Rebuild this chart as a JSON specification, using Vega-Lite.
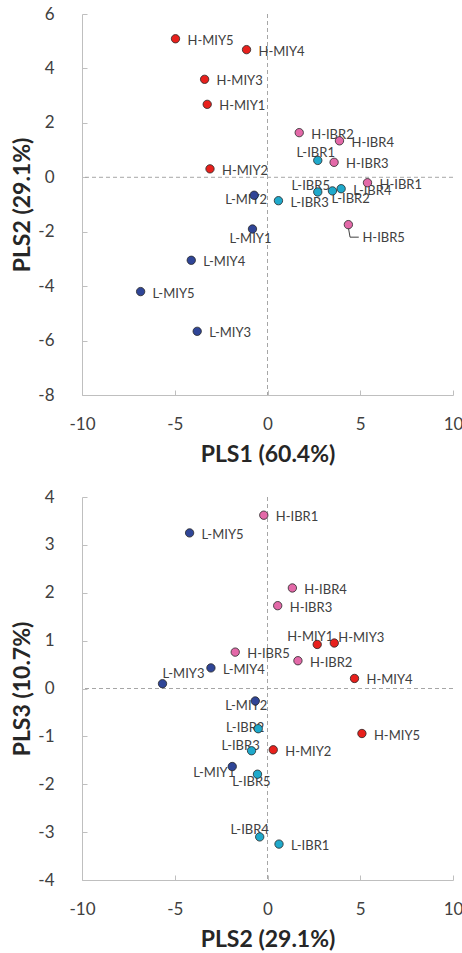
{
  "$schema": "https://vega.github.io/schema/vega-lite/v6.json",
  "background": "white",
  "padding": {"left": 11, "top": 5, "right": 0, "bottom": 0},
  "datasets": {
    "pls": [
      {"name": "H-MIY1", "grp": "H-MIY", "PLS1": -3.25, "PLS2": 2.68, "PLS3": 0.92},
      {"name": "H-MIY2", "grp": "H-MIY", "PLS1": -3.10, "PLS2": 0.31, "PLS3": -1.28},
      {"name": "H-MIY3", "grp": "H-MIY", "PLS1": -3.39, "PLS2": 3.60, "PLS3": 0.95},
      {"name": "H-MIY4", "grp": "H-MIY", "PLS1": -1.13, "PLS2": 4.69, "PLS3": 0.21},
      {"name": "H-MIY5", "grp": "H-MIY", "PLS1": -4.96, "PLS2": 5.09, "PLS3": -0.94},
      {"name": "H-IBR1", "grp": "H-IBR", "PLS1": 5.39, "PLS2": -0.20, "PLS3": 3.62},
      {"name": "H-IBR2", "grp": "H-IBR", "PLS1": 1.71, "PLS2": 1.64, "PLS3": 0.58},
      {"name": "H-IBR3", "grp": "H-IBR", "PLS1": 3.59, "PLS2": 0.55, "PLS3": 1.73},
      {"name": "H-IBR4", "grp": "H-IBR", "PLS1": 3.88, "PLS2": 1.34, "PLS3": 2.10},
      {"name": "H-IBR5", "grp": "H-IBR", "PLS1": 4.36, "PLS2": -1.74, "PLS3": 0.76},
      {"name": "L-IBR1", "grp": "L-IBR", "PLS1": 2.71, "PLS2": 0.62, "PLS3": -3.25},
      {"name": "L-IBR2", "grp": "L-IBR", "PLS1": 3.50, "PLS2": -0.50, "PLS3": -0.84},
      {"name": "L-IBR3", "grp": "L-IBR", "PLS1": 0.59, "PLS2": -0.86, "PLS3": -1.30},
      {"name": "L-IBR4", "grp": "L-IBR", "PLS1": 3.97, "PLS2": -0.42, "PLS3": -3.10},
      {"name": "L-IBR5", "grp": "L-IBR", "PLS1": 2.71, "PLS2": -0.54, "PLS3": -1.79},
      {"name": "L-MIY1", "grp": "L-MIY", "PLS1": -0.81, "PLS2": -1.90, "PLS3": -1.63},
      {"name": "L-MIY2", "grp": "L-MIY", "PLS1": -0.72, "PLS2": -0.66, "PLS3": -0.26},
      {"name": "L-MIY3", "grp": "L-MIY", "PLS1": -3.79, "PLS2": -5.66, "PLS3": 0.10},
      {"name": "L-MIY4", "grp": "L-MIY", "PLS1": -4.11, "PLS2": -3.05, "PLS3": 0.43},
      {"name": "L-MIY5", "grp": "L-MIY", "PLS1": -6.84, "PLS2": -4.20, "PLS3": 3.25}
    ],
    "leader": [
      {"step": 1, "PLS1": 4.36, "PLS2": -1.85},
      {"step": 2, "PLS1": 4.45, "PLS2": -2.20},
      {"step": 3, "PLS1": 4.92, "PLS2": -2.20}
    ]
  },
  "data": {"name": "pls"},
  "bounds": "flush",
  "spacing": 102,
  "vconcat": [
    {
      "width": 371,
      "height": 381,
      "layer": [
        {
          "data": {"values": [{}]},
          "mark": {"type": "rule", "color": "#a6a6a6", "strokeDash": [4, 3], "strokeWidth": 1},
          "encoding": {"x": {"datum": 0, "type": "quantitative", "scale": {"domain": [-10, 10]}}}
        },
        {
          "data": {"values": [{}]},
          "mark": {"type": "rule", "color": "#a6a6a6", "strokeDash": [4, 3], "strokeWidth": 1},
          "encoding": {"y": {"datum": 0, "type": "quantitative", "scale": {"domain": [-8, 6]}}}
        },
        {
          "data": {"name": "leader"},
          "mark": {"type": "line", "color": "#404040", "strokeWidth": 1},
          "encoding": {
            "x": {"field": "PLS1", "type": "quantitative", "title": "PLS1 (60.4%)"},
            "y": {"field": "PLS2", "type": "quantitative", "title": "PLS2 (29.1%)"},
            "order": {"field": "step"}
          }
        },
        {
          "transform": [{"filter": {"field": "name", "oneOf": ["H-MIY5", "H-MIY4", "H-MIY3", "H-MIY1", "H-MIY2", "H-IBR2", "H-IBR4", "H-IBR3", "H-IBR1", "L-IBR4", "L-IBR3", "L-MIY4", "L-MIY5", "L-MIY3"]}}],
          "mark": {"type": "text", "align": "left", "baseline": "middle", "dx": 12, "dy": 2, "fontSize": 13, "color": "#404040"},
          "encoding": {
            "x": {"field": "PLS1", "type": "quantitative", "title": "PLS1 (60.4%)"},
            "y": {"field": "PLS2", "type": "quantitative", "title": "PLS2 (29.1%)"},
            "text": {"field": "name"}
          }
        },
        {
          "transform": [{"filter": {"field": "name", "equal": "L-IBR1"}}],
          "mark": {"type": "text", "align": "center", "baseline": "middle", "dx": -2, "dy": -7, "fontSize": 13, "color": "#404040"},
          "encoding": {
            "x": {"field": "PLS1", "type": "quantitative", "title": "PLS1 (60.4%)"},
            "y": {"field": "PLS2", "type": "quantitative", "title": "PLS2 (29.1%)"},
            "text": {"field": "name"}
          }
        },
        {
          "transform": [{"filter": {"field": "name", "equal": "L-IBR5"}}],
          "mark": {"type": "text", "align": "center", "baseline": "middle", "dx": -7, "dy": -6, "fontSize": 13, "color": "#404040"},
          "encoding": {
            "x": {"field": "PLS1", "type": "quantitative", "title": "PLS1 (60.4%)"},
            "y": {"field": "PLS2", "type": "quantitative", "title": "PLS2 (29.1%)"},
            "text": {"field": "name"}
          }
        },
        {
          "transform": [{"filter": {"field": "name", "equal": "L-IBR2"}}],
          "mark": {"type": "text", "align": "left", "baseline": "middle", "dx": -1, "dy": 8, "fontSize": 13, "color": "#404040"},
          "encoding": {
            "x": {"field": "PLS1", "type": "quantitative", "title": "PLS1 (60.4%)"},
            "y": {"field": "PLS2", "type": "quantitative", "title": "PLS2 (29.1%)"},
            "text": {"field": "name"}
          }
        },
        {
          "transform": [{"filter": {"field": "name", "equal": "L-MIY2"}}],
          "mark": {"type": "text", "align": "center", "baseline": "middle", "dx": -8, "dy": 5, "fontSize": 13, "color": "#404040"},
          "encoding": {
            "x": {"field": "PLS1", "type": "quantitative", "title": "PLS1 (60.4%)"},
            "y": {"field": "PLS2", "type": "quantitative", "title": "PLS2 (29.1%)"},
            "text": {"field": "name"}
          }
        },
        {
          "transform": [{"filter": {"field": "name", "equal": "L-MIY1"}}],
          "mark": {"type": "text", "align": "center", "baseline": "middle", "dx": -2, "dy": 10, "fontSize": 13, "color": "#404040"},
          "encoding": {
            "x": {"field": "PLS1", "type": "quantitative", "title": "PLS1 (60.4%)"},
            "y": {"field": "PLS2", "type": "quantitative", "title": "PLS2 (29.1%)"},
            "text": {"field": "name"}
          }
        },
        {
          "transform": [{"filter": {"field": "name", "equal": "H-IBR5"}}],
          "mark": {"type": "text", "align": "left", "baseline": "middle", "dx": 14, "dy": 13, "fontSize": 13, "color": "#404040"},
          "encoding": {
            "x": {"field": "PLS1", "type": "quantitative", "title": "PLS1 (60.4%)"},
            "y": {"field": "PLS2", "type": "quantitative", "title": "PLS2 (29.1%)"},
            "text": {"field": "name"}
          }
        },
        {
          "mark": {"type": "point", "filled": true, "size": 70, "stroke": "#262626", "strokeWidth": 0.8, "opacity": 1},
          "encoding": {
            "x": {"field": "PLS1", "type": "quantitative", "title": "PLS1 (60.4%)", "scale": {"domain": [-10, 10]}, "axis": {"values": [-10, -5, 0, 5, 10]}},
            "y": {"field": "PLS2", "type": "quantitative", "title": "PLS2 (29.1%)", "scale": {"domain": [-8, 6]}, "axis": {"values": [-8, -6, -4, -2, 0, 2, 4, 6]}},
            "fill": {"field": "grp", "type": "nominal", "legend": null, "scale": {"domain": ["H-MIY", "H-IBR", "L-IBR", "L-MIY"], "range": ["#e8201c", "#e369a8", "#1fa9cb", "#2f4597"]}}
          }
        }
      ]
    },
    {
      "width": 371,
      "height": 383,
      "layer": [
        {
          "data": {"values": [{}]},
          "mark": {"type": "rule", "color": "#a6a6a6", "strokeDash": [4, 3], "strokeWidth": 1},
          "encoding": {"x": {"datum": 0, "type": "quantitative", "scale": {"domain": [-10, 10]}}}
        },
        {
          "data": {"values": [{}]},
          "mark": {"type": "rule", "color": "#a6a6a6", "strokeDash": [4, 3], "strokeWidth": 1},
          "encoding": {"y": {"datum": 0, "type": "quantitative", "scale": {"domain": [-4, 4]}}}
        },
        {
          "transform": [{"filter": {"field": "name", "oneOf": ["H-IBR1", "L-MIY5", "H-IBR4", "H-IBR3", "H-IBR5", "H-IBR2", "L-MIY4", "H-MIY4", "H-MIY5", "H-MIY2", "L-IBR1"]}}],
          "mark": {"type": "text", "align": "left", "baseline": "middle", "dx": 12, "dy": 2, "fontSize": 13, "color": "#404040"},
          "encoding": {
            "x": {"field": "PLS2", "type": "quantitative", "title": "PLS2 (29.1%)"},
            "y": {"field": "PLS3", "type": "quantitative", "title": "PLS3 (10.7%)"},
            "text": {"field": "name"}
          }
        },
        {
          "transform": [{"filter": {"field": "name", "equal": "H-MIY1"}}],
          "mark": {"type": "text", "align": "center", "baseline": "middle", "dx": -7, "dy": -7, "fontSize": 13, "color": "#404040"},
          "encoding": {
            "x": {"field": "PLS2", "type": "quantitative", "title": "PLS2 (29.1%)"},
            "y": {"field": "PLS3", "type": "quantitative", "title": "PLS3 (10.7%)"},
            "text": {"field": "name"}
          }
        },
        {
          "transform": [{"filter": {"field": "name", "equal": "H-MIY3"}}],
          "mark": {"type": "text", "align": "left", "baseline": "middle", "dx": 4, "dy": -5, "fontSize": 13, "color": "#404040"},
          "encoding": {
            "x": {"field": "PLS2", "type": "quantitative", "title": "PLS2 (29.1%)"},
            "y": {"field": "PLS3", "type": "quantitative", "title": "PLS3 (10.7%)"},
            "text": {"field": "name"}
          }
        },
        {
          "transform": [{"filter": {"field": "name", "equal": "L-MIY3"}}],
          "mark": {"type": "text", "align": "left", "baseline": "middle", "dx": 0, "dy": -10, "fontSize": 13, "color": "#404040"},
          "encoding": {
            "x": {"field": "PLS2", "type": "quantitative", "title": "PLS2 (29.1%)"},
            "y": {"field": "PLS3", "type": "quantitative", "title": "PLS3 (10.7%)"},
            "text": {"field": "name"}
          }
        },
        {
          "transform": [{"filter": {"field": "name", "equal": "L-MIY2"}}],
          "mark": {"type": "text", "align": "center", "baseline": "middle", "dx": -9, "dy": 5, "fontSize": 13, "color": "#404040"},
          "encoding": {
            "x": {"field": "PLS2", "type": "quantitative", "title": "PLS2 (29.1%)"},
            "y": {"field": "PLS3", "type": "quantitative", "title": "PLS3 (10.7%)"},
            "text": {"field": "name"}
          }
        },
        {
          "transform": [{"filter": {"field": "name", "equal": "L-IBR2"}}],
          "mark": {"type": "text", "align": "center", "baseline": "middle", "dx": -13, "dy": -1, "fontSize": 13, "color": "#404040"},
          "encoding": {
            "x": {"field": "PLS2", "type": "quantitative", "title": "PLS2 (29.1%)"},
            "y": {"field": "PLS3", "type": "quantitative", "title": "PLS3 (10.7%)"},
            "text": {"field": "name"}
          }
        },
        {
          "transform": [{"filter": {"field": "name", "equal": "L-IBR3"}}],
          "mark": {"type": "text", "align": "center", "baseline": "middle", "dx": -11, "dy": -5, "fontSize": 13, "color": "#404040"},
          "encoding": {
            "x": {"field": "PLS2", "type": "quantitative", "title": "PLS2 (29.1%)"},
            "y": {"field": "PLS3", "type": "quantitative", "title": "PLS3 (10.7%)"},
            "text": {"field": "name"}
          }
        },
        {
          "transform": [{"filter": {"field": "name", "equal": "L-MIY1"}}],
          "mark": {"type": "text", "align": "center", "baseline": "middle", "dx": -18, "dy": 6, "fontSize": 13, "color": "#404040"},
          "encoding": {
            "x": {"field": "PLS2", "type": "quantitative", "title": "PLS2 (29.1%)"},
            "y": {"field": "PLS3", "type": "quantitative", "title": "PLS3 (10.7%)"},
            "text": {"field": "name"}
          }
        },
        {
          "transform": [{"filter": {"field": "name", "equal": "L-IBR5"}}],
          "mark": {"type": "text", "align": "center", "baseline": "middle", "dx": -6, "dy": 8, "fontSize": 13, "color": "#404040"},
          "encoding": {
            "x": {"field": "PLS2", "type": "quantitative", "title": "PLS2 (29.1%)"},
            "y": {"field": "PLS3", "type": "quantitative", "title": "PLS3 (10.7%)"},
            "text": {"field": "name"}
          }
        },
        {
          "transform": [{"filter": {"field": "name", "equal": "L-IBR4"}}],
          "mark": {"type": "text", "align": "center", "baseline": "middle", "dx": -10, "dy": -7, "fontSize": 13, "color": "#404040"},
          "encoding": {
            "x": {"field": "PLS2", "type": "quantitative", "title": "PLS2 (29.1%)"},
            "y": {"field": "PLS3", "type": "quantitative", "title": "PLS3 (10.7%)"},
            "text": {"field": "name"}
          }
        },
        {
          "mark": {"type": "point", "filled": true, "size": 70, "stroke": "#262626", "strokeWidth": 0.8, "opacity": 1},
          "encoding": {
            "x": {"field": "PLS2", "type": "quantitative", "title": "PLS2 (29.1%)", "scale": {"domain": [-10, 10]}, "axis": {"values": [-10, -5, 0, 5, 10]}},
            "y": {"field": "PLS3", "type": "quantitative", "title": "PLS3 (10.7%)", "scale": {"domain": [-4, 4]}, "axis": {"values": [-4, -3, -2, -1, 0, 1, 2, 3, 4]}},
            "fill": {"field": "grp", "type": "nominal", "legend": null, "scale": {"domain": ["H-MIY", "H-IBR", "L-IBR", "L-MIY"], "range": ["#e8201c", "#e369a8", "#1fa9cb", "#2f4597"]}}
          }
        }
      ]
    }
  ],
  "config": {
    "font": "Lato",
    "view": {"stroke": null},
    "text": {"font": "Lato"},
    "axis": {
      "grid": false,
      "domainColor": "#bfbfbf",
      "domainWidth": 1,
      "tickColor": "#bfbfbf",
      "tickSize": -5,
      "labelFont": "Lato",
      "labelFontSize": 17,
      "labelColor": "#404040",
      "labelFlush": false,
      "labelOverlap": false,
      "labelExpr": "'' + datum.value",
      "titleFont": "Lato",
      "titleFontSize": 23,
      "titleFontWeight": "bold",
      "titleColor": "#262626"
    },
    "axisX": {"labelPadding": 26, "titlePadding": 11},
    "axisY": {"labelPadding": 33, "titlePadding": 3}
  }
}
